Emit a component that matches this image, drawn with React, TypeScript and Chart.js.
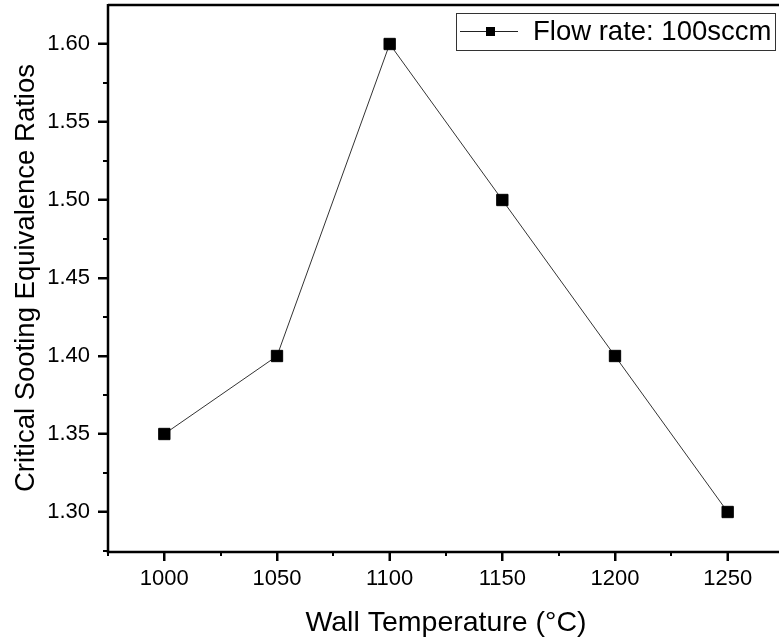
import React, { useEffect, useRef } from 'react';
import { Chart, registerables } from 'chart.js';

Chart.register(...registerables);

const temperatures = [1000, 1050, 1100, 1150, 1200, 1250];
const ratios = [1.35, 1.40, 1.60, 1.50, 1.40, 1.30];
const seriesLabel = 'Flow rate: 100sccm';
const xMajorTicks = [1000, 1050, 1100, 1150, 1200, 1250];
const xMinorTicks = [975, 1025, 1075, 1125, 1175, 1225, 1275];
const yMajorTicks = [1.30, 1.35, 1.40, 1.45, 1.50, 1.55, 1.60];
const yMinorTicks = [1.275, 1.325, 1.375, 1.425, 1.475, 1.525, 1.575];
const xTitle = 'Wall Temperature (°C)';
const yTitle = 'Critical Sooting Equivalence Ratios';

const FONT = "'Liberation Sans', Arial, sans-serif";
const SHIFT = 4; // canvas is offset upward by this many px

const framePlugin = {
  id: 'frameAndMinor',
  afterDraw(chart: any) {
    const { ctx, chartArea } = chart;
    const xs = chart.scales.x;
    const ys = chart.scales.y;
    ctx.save();
    ctx.strokeStyle = '#000';
    ctx.lineWidth = 2.5;
    ctx.beginPath();
    ctx.moveTo(chartArea.left, chartArea.top);
    ctx.lineTo(chartArea.right, chartArea.top);
    ctx.lineTo(chartArea.right, chartArea.bottom);
    ctx.moveTo(chartArea.left, chartArea.top - 1);
    ctx.lineTo(chartArea.left, chartArea.bottom + 1);
    ctx.lineTo(chartArea.right, chartArea.bottom + 1);
    ctx.stroke();
    ctx.lineWidth = 2;
    // major ticks
    ctx.beginPath();
    xMajorTicks.forEach((v) => {
      const px = Math.round(xs.getPixelForValue(v));
      ctx.moveTo(px, chartArea.bottom);
      ctx.lineTo(px, chartArea.bottom + 10);
    });
    yMajorTicks.forEach((v) => {
      const py = Math.round(ys.getPixelForValue(v));
      ctx.moveTo(chartArea.left, py);
      ctx.lineTo(chartArea.left - 10, py);
    });
    ctx.stroke();
    // minor ticks
    ctx.beginPath();
    xMinorTicks.forEach((v) => {
      const px = Math.round(xs.getPixelForValue(v));
      ctx.moveTo(px, chartArea.bottom);
      ctx.lineTo(px, chartArea.bottom + 5);
    });
    yMinorTicks.forEach((v) => {
      const py = Math.round(ys.getPixelForValue(v));
      ctx.moveTo(chartArea.left, py);
      ctx.lineTo(chartArea.left - 5, py);
    });
    ctx.stroke();

    // legend
    const bx = 456, by = 13 + SHIFT, bw = 319, bh = 37;
    ctx.lineWidth = 1;
    ctx.strokeStyle = '#333';
    ctx.strokeRect(bx + 0.5, by + 0.5, bw, bh);
    const cy = 31.5 + SHIFT;
    ctx.beginPath();
    ctx.moveTo(460, cy);
    ctx.lineTo(518, cy);
    ctx.strokeStyle = '#222';
    ctx.stroke();
    ctx.fillStyle = '#000';
    ctx.fillRect(486, cy - 4.5, 9, 9);
    ctx.font = `27.5px ${FONT}`;
    ctx.textBaseline = 'alphabetic';
    ctx.textAlign = 'left';
    ctx.fillText(chart.data.datasets[0].label, 533, 40 + SHIFT);
    ctx.restore();
  },
};

export default function App() {
  const ref = useRef<HTMLCanvasElement>(null);
  useEffect(() => {
    if (!ref.current) return;
    const chart = new Chart(ref.current, {
      type: 'line',
      data: {
        datasets: [
          {
            label: seriesLabel,
            data: temperatures.map((t, i) => ({ x: t, y: ratios[i] })),
            borderColor: '#333',
            borderWidth: 1,
            pointStyle: 'rect',
            pointRadius: 8,
            pointBackgroundColor: '#000',
            pointBorderColor: '#000',
            pointBorderWidth: 1,
            tension: 0,
          },
        ],
      },
      plugins: [framePlugin],
      options: {
        animation: false,
        responsive: false,
        devicePixelRatio: 1,
        layout: { padding: { top: 2, right: 16, left: 0, bottom: 0 } },
        plugins: {
          legend: { display: false },
          tooltip: { enabled: false },
        },
        scales: {
          x: {
            type: 'linear',
            min: 975,
            max: 1275,
            afterBuildTicks: (s: any) => {
              s.ticks = xMajorTicks.map((v) => ({ value: v }));
            },
            afterFit: (s: any) => {
              s.height = 92;
              s.paddingLeft = 0;
              s.paddingRight = 0;
            },
            grid: {
              drawOnChartArea: false,
              drawTicks: true,
              tickLength: 10,
              tickWidth: 2,
              tickColor: '#000',
            },
            border: { display: false },
            ticks: {
              color: '#000',
              font: { family: FONT, size: 22 },
              padding: 5,
              maxRotation: 0,
              callback: (v: any) => String(v),
            },
            title: {
              display: true,
              text: xTitle,
              color: '#000',
              font: { family: FONT, size: 28.5 },
              padding: { top: 0, bottom: 3 },
            },
          },
          y: {
            type: 'linear',
            min: 1.275,
            max: 1.625,
            afterBuildTicks: (s: any) => {
              s.ticks = yMajorTicks.map((v) => ({ value: v }));
            },
            afterFit: (s: any) => {
              s.width = 108;
              s.paddingTop = 0;
              s.paddingBottom = 0;
            },
            grid: {
              drawOnChartArea: false,
              drawTicks: true,
              tickLength: 10,
              tickWidth: 2,
              tickColor: '#000',
            },
            border: { display: false },
            ticks: {
              color: '#000',
              font: { family: FONT, size: 22 },
              padding: 8,
              callback: (v: any) => Number(v).toFixed(2),
            },
            title: {
              display: true,
              text: yTitle,
              color: '#000',
              font: { family: FONT, size: 27.5 },
              padding: { top: 9.5, bottom: 0 },
            },
          },
        },
      },
    });
    return () => chart.destroy();
  }, []);
  return (
    <div
      style={{
        position: 'fixed',
        left: 0,
        top: 0,
        width: 779,
        height: 643,
        overflow: 'hidden',
        background: '#fff',
      }}
    >
      <canvas
        ref={ref}
        width={800}
        height={643 + SHIFT}
        style={{ display: 'block', position: 'absolute', left: 0, top: -SHIFT }}
      />
    </div>
  );
}
